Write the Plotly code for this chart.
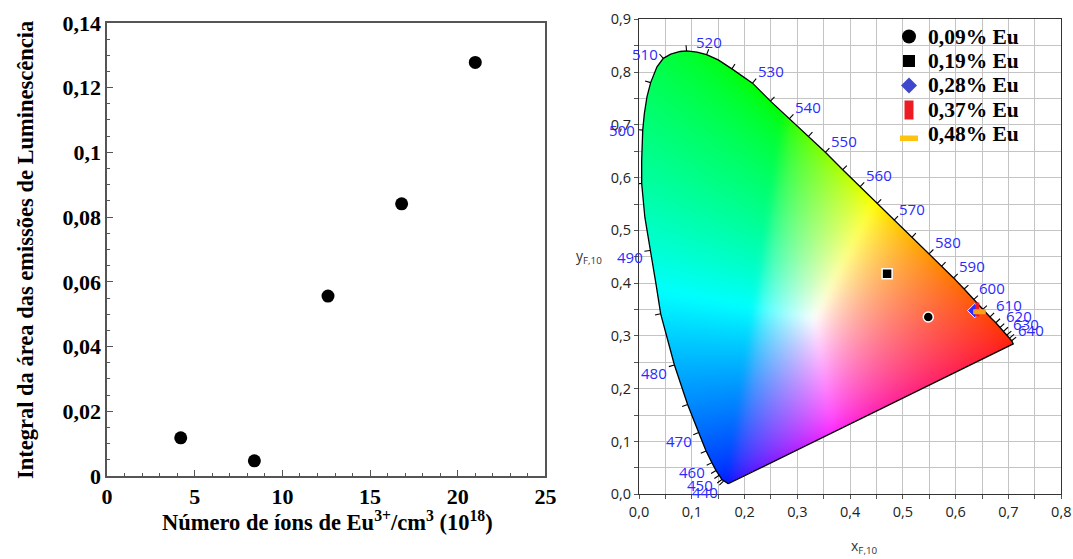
import numpy as np
import plotly.graph_objects as go
import zlib, struct, base64

# ---------------- data: left panel ----------------
eu_ions = [4.2, 8.4, 12.6, 16.8, 21.0]
lum_area = [0.0118, 0.0047, 0.0556, 0.0841, 0.1278]

# ---------------- data: chromaticity diagram ----------------
# spectral locus outline (blue end -> left -> top -> red end)
locus_x = [0.169, 0.160, 0.157, 0.152, 0.146, 0.138, 0.127, 0.113, 0.092, 0.067, 0.049,
           0.041, 0.032, 0.021, 0.011, 0.005, 0.005, 0.007, 0.010, 0.015, 0.022, 0.034,
           0.046, 0.060, 0.078, 0.090, 0.110, 0.128, 0.150, 0.176, 0.215, 0.249, 0.285,
           0.321, 0.353, 0.386, 0.419, 0.451, 0.483, 0.517, 0.550, 0.573, 0.596, 0.616,
           0.634, 0.651, 0.665, 0.676, 0.684, 0.691, 0.697, 0.702, 0.706, 0.709]
locus_y = [0.020, 0.025, 0.028, 0.036, 0.045, 0.060, 0.082, 0.117, 0.170, 0.245, 0.311,
           0.342, 0.399, 0.462, 0.525, 0.589, 0.633, 0.690, 0.721, 0.753, 0.780, 0.810,
           0.826, 0.834, 0.839, 0.840, 0.838, 0.833, 0.823, 0.806, 0.779, 0.745, 0.712,
           0.678, 0.648, 0.615, 0.583, 0.551, 0.519, 0.487, 0.456, 0.432, 0.410, 0.389,
           0.369, 0.350, 0.336, 0.325, 0.316, 0.309, 0.302, 0.296, 0.291, 0.285]

# wavelength tick marks on the locus (nm and position)
wl_nm = [440, 445, 450, 455, 460, 465, 470, 475, 480, 485, 490, 495, 500, 505, 510,
         515, 520, 525, 530, 535, 540, 545, 550, 555, 560, 565, 570, 575, 580, 585,
         590, 595, 600, 605, 610, 615, 620, 625, 630, 635, 640]
wl_x = [0.160, 0.157, 0.152, 0.146, 0.138, 0.127, 0.113, 0.092, 0.067, 0.041, 0.021,
        0.005, 0.007, 0.022, 0.046, 0.090, 0.128, 0.176, 0.215, 0.249, 0.285, 0.321,
        0.353, 0.386, 0.419, 0.451, 0.483, 0.517, 0.550, 0.573, 0.596, 0.616, 0.634,
        0.651, 0.665, 0.676, 0.684, 0.691, 0.697, 0.702, 0.706]
wl_y = [0.025, 0.028, 0.036, 0.045, 0.060, 0.082, 0.117, 0.170, 0.245, 0.342, 0.462,
        0.589, 0.690, 0.780, 0.826, 0.840, 0.833, 0.806, 0.779, 0.745, 0.712, 0.678,
        0.648, 0.615, 0.583, 0.551, 0.519, 0.487, 0.456, 0.432, 0.410, 0.389, 0.369,
        0.350, 0.336, 0.325, 0.316, 0.309, 0.302, 0.296, 0.291]

# samples
sample_names = ['0,09% Eu', '0,19% Eu', '0,28% Eu', '0,37% Eu', '0,48% Eu']
sample_x = [0.548, 0.470, 0.636, 0.641, 0.645]
sample_y = [0.336, 0.418, 0.348, 0.350, 0.346]

W, H = 1073, 559
X2_DOM = [639 / W, 1061.3 / W]
Y2_DOM = [1 - 494.3 / H, 1 - 19.3 / H]
X2_RANGE = [0, 0.8]
Y2_RANGE = [0, 0.9]

# ---------------- colour fill image (rendering of the chromaticity plane) ----------------
step = 1 / 527.5
nx, ny = 380, 452
xs = (np.arange(nx) + 0.5) * step
ys = (np.arange(ny) + 0.5) * step
GX, GY = np.meshgrid(xs, ys)
Xc = GX / GY
Zc = (1 - GX - GY) / GY
M = np.array([[2.3646, -0.8965, -0.4681],
              [-0.5152, 1.4264, 0.0888],
              [0.0052, -0.0144, 1.0092]])
r = M[0, 0] * Xc + M[0, 1] + M[0, 2] * Zc
g = M[1, 0] * Xc + M[1, 1] + M[1, 2] * Zc
b = M[2, 0] * Xc + M[2, 1] + M[2, 2] * Zc
rgb = np.stack([r, g, b], -1)
rgb = np.clip(rgb, 0, None)
rgb = rgb / np.maximum(rgb.max(-1, keepdims=True), 1e-9)
rgb = np.power(rgb, 1 / 1.7)


def gauss_matrix(n, sigma):
    idx = np.arange(n)
    k = np.exp(-0.5 * ((idx[:, None] - idx[None, :]) / sigma) ** 2)
    return k / k.sum(1, keepdims=True)


Ky = gauss_matrix(ny, 4.0)
Kx = gauss_matrix(nx, 4.0)
for ch in range(3):
    rgb[..., ch] = Ky @ rgb[..., ch] @ Kx.T

px_ = np.array(locus_x + [locus_x[0]])
py_ = np.array(locus_y + [locus_y[0]])
inside = np.zeros(GX.shape, dtype=bool)
for i in range(len(px_) - 1):
    x1, y1, x2, y2 = px_[i], py_[i], px_[i + 1], py_[i + 1]
    cond = (y1 > GY) != (y2 > GY)
    xint = x1 + (GY - y1) * (x2 - x1) / ((y2 - y1) if y2 != y1 else 1e-12)
    inside ^= cond & (GX < xint)

rgba = np.zeros((ny, nx, 4), dtype=np.uint8)
rgba[..., :3] = (np.clip(rgb, 0, 1) * 255).round().astype(np.uint8)
rgba[..., 3] = np.where(inside, 255, 0).astype(np.uint8)


def png_uri(arr):
    h, w, _ = arr.shape
    raw = b''.join(b'\x00' + arr[i].tobytes() for i in range(h))

    def chunk(tag, data):
        c = struct.pack('>I', len(data)) + tag + data
        return c + struct.pack('>I', zlib.crc32(tag + data) & 0xffffffff)
    png = (b'\x89PNG\r\n\x1a\n' + chunk(b'IHDR', struct.pack('>IIBBBBB', w, h, 8, 6, 0, 0, 0))
           + chunk(b'IDAT', zlib.compress(raw, 9)) + chunk(b'IEND', b''))
    return 'data:image/png;base64,' + base64.b64encode(png).decode()


def to_paper(x, y):
    px = X2_DOM[0] + (x - X2_RANGE[0]) / (X2_RANGE[1] - X2_RANGE[0]) * (X2_DOM[1] - X2_DOM[0])
    py = Y2_DOM[0] + (y - Y2_RANGE[0]) / (Y2_RANGE[1] - Y2_RANGE[0]) * (Y2_DOM[1] - Y2_DOM[0])
    return px, py


fig = go.Figure()

# ---------------- left panel ----------------
fig.add_trace(go.Scatter(x=eu_ions, y=lum_area, mode='markers', xaxis='x', yaxis='y',
                         marker=dict(symbol='circle', size=13, color='black'), showlegend=False))

# ---------------- right panel ----------------
fig.add_trace(go.Image(source=png_uri(rgba), x0=xs[0], y0=ys[0], dx=step, dy=step,
                       xaxis='x2', yaxis='y2', hoverinfo='skip'))

fig.add_trace(go.Scatter(x=locus_x + [locus_x[0]], y=locus_y + [locus_y[0]], mode='lines',
                         xaxis='x2', yaxis='y2', line=dict(color='black', width=1.3),
                         showlegend=False, hoverinfo='skip'))

# wavelength ticks and labels
P = np.array([wl_x, wl_y]).T
tick_len = 0.011
tx, ty = [], []
annotations = []
for i, nm in enumerate(wl_nm):
    a = P[max(i - 1, 0)]
    c = P[min(i + 1, len(P) - 1)]
    t = c - a
    t = t / np.hypot(*t)
    n = np.array([-t[1], t[0]])
    p0 = P[i]
    p1 = p0 + n * tick_len
    tx += [p0[0], p1[0], None]
    ty += [p0[1], p1[1], None]
    if nm % 10 == 0:
        if n[0] < -0.45:
            xa = 'right'
            ya = 'top' if n[1] < -0.1 else 'middle'
        elif n[0] > 0.45:
            xa, ya = 'left', 'bottom'
        else:
            xa = 'center'
            ya = 'bottom' if n[1] > 0 else 'top'
        ysh = {'bottom': -4, 'top': 5, 'middle': 0}[ya]
        lp = p1 + n * 0.001
        lx, ly = to_paper(lp[0], lp[1])
        annotations.append(dict(x=lx, y=ly, xref='paper', yref='paper', text=str(nm),
                                showarrow=False, xanchor=xa, yanchor=ya, borderpad=0, yshift=ysh,
                                font=dict(family='Open Sans', size=15, color='#2a2aff')))
fig.add_trace(go.Scatter(x=tx, y=ty, mode='lines', xaxis='x2', yaxis='y2',
                         line=dict(color='black', width=1.1), showlegend=False, hoverinfo='skip'))

# sample markers on the diagram
plot_styles = [
    dict(symbol='circle', size=10, color='black', line=dict(color='white', width=1.5)),
    dict(symbol='square', size=10, color='black', line=dict(color='white', width=1.5)),
    dict(symbol='diamond', size=11, color='#2b2bff', line=dict(color='white', width=1)),
    dict(symbol='line-ns', size=10, color='#ed1c24', line=dict(color='#ed1c24', width=4)),
    dict(symbol='line-ew', size=9, color='#f7a21b', line=dict(color='#f7a21b', width=5)),
]
for i, name in enumerate(sample_names):
    fig.add_trace(go.Scatter(x=[sample_x[i]], y=[sample_y[i]], mode='markers', xaxis='x2', yaxis='y2',
                             name=name, marker=plot_styles[i], showlegend=False, hoverinfo='skip'))

# legend key (drawn as layout shapes + text)
LEG_X_SYM = 909 / W
LEG_X_TXT = 926 / W
LEG_Y0 = 36.5
LEG_STEP = 24.5
legend_shapes = [
    dict(type='circle', x0=-7, x1=7, y0=-7, y1=7, fillcolor='black'),
    dict(type='rect', x0=-6, x1=6, y0=-6, y1=6, fillcolor='black'),
    dict(type='path', path='M-8,0 L0,-8 L8,0 L0,8 Z', fillcolor='#3f48cc'),
    dict(type='rect', x0=-4.5, x1=4.5, y0=-9.5, y1=9.5, fillcolor='#ed1c24'),
    dict(type='rect', x0=-9, x1=9, y0=-6.5, y1=-1, fillcolor='#ffc20e'),
]
shapes = []
for i, name in enumerate(sample_names):
    yc = 1 - (LEG_Y0 + i * LEG_STEP) / H
    s = dict(legend_shapes[i])
    s.update(xref='paper', yref='paper', xsizemode='pixel', ysizemode='pixel',
             xanchor=LEG_X_SYM, yanchor=yc, line=dict(width=0))
    shapes.append(s)
    annotations.append(dict(x=LEG_X_TXT, y=yc, xref='paper', yref='paper', text=name, showarrow=False,
                            xanchor='left', yanchor='middle',
                            font=dict(family='Liberation Serif', size=21.5, color='black', weight='bold')))

serif_bold = dict(family='Liberation Serif', size=22.5, color='black', weight='bold')
sans = dict(family='Open Sans', size=14.5, color='#222')

annotations += [
    dict(x=327.5 / W, y=1 - 521 / H, xref='paper', yref='paper', showarrow=False,
         text='Número de íons de Eu<sup>3+</sup>/cm<sup>3</sup> (10<sup>18</sup>)', font=serif_bold,
         xanchor='center', yanchor='middle'),
    dict(x=25 / W, y=1 - 250 / H, xref='paper', yref='paper', showarrow=False, textangle=-90,
         text='Integral da área das emissões de Luminescência', font=serif_bold,
         xanchor='center', yanchor='middle'),
    dict(x=589 / W, y=1 - 256 / H, xref='paper', yref='paper', showarrow=False,
         text='y<sub>F,10</sub>', font=dict(family='Open Sans', size=14, color='#333'),
         xanchor='center', yanchor='middle'),
    dict(x=864 / W, y=1 - 546 / H, xref='paper', yref='paper', showarrow=False,
         text='x<sub>F,10</sub>', font=dict(family='Open Sans', size=14, color='#333'),
         xanchor='center', yanchor='middle'),
]

fig.update_layout(
    width=W, height=H, margin=dict(l=0, r=0, t=0, b=0, autoexpand=False),
    paper_bgcolor='white', plot_bgcolor='white', separators=',.', showlegend=False,
    xaxis=dict(domain=[107.1 / W, 545.4 / W], anchor='y', range=[0, 25], dtick=5,
               showgrid=False, zeroline=False, showline=True, mirror=True, linecolor='#555', linewidth=1.5,
               ticks='inside', ticklen=6, tickcolor='#555', tickwidth=1.2,
               minor=dict(dtick=1, ticks='inside', ticklen=3, tickcolor='#555', showgrid=False),
               tickfont=dict(serif_bold, size=22)),
    yaxis=dict(domain=[1 - 476 / H, 1 - 22.9 / H], anchor='x', range=[0, 0.14], dtick=0.02,
               showgrid=False, zeroline=False, showline=True, mirror=True, linecolor='#555', linewidth=1.5,
               ticks='inside', ticklen=6, tickcolor='#555', tickwidth=1.2,
               minor=dict(dtick=0.005, ticks='inside', ticklen=3, tickcolor='#555', showgrid=False),
               tickfont=dict(serif_bold, size=22)),
    xaxis2=dict(domain=X2_DOM, anchor='y2', range=X2_RANGE, autorange=False, dtick=0.1,
                tickformat='.1f', showgrid=True, gridcolor='#c4c4c4', gridwidth=1, zeroline=False,
                showline=True, mirror=True, linecolor='#333', linewidth=1.3,
                ticks='outside', ticklen=4, tickcolor='#555',
                minor=dict(dtick=0.05, ticks='outside', ticklen=4, tickcolor='#555', showgrid=True,
                           gridcolor='#c4c4c4', gridwidth=1),
                tickfont=sans),
    yaxis2=dict(domain=Y2_DOM, anchor='x2', range=Y2_RANGE, autorange=False, dtick=0.1,
                tickformat='.1f', showgrid=True, gridcolor='#c4c4c4', gridwidth=1, zeroline=False,
                showline=True, mirror=True, linecolor='#333', linewidth=1.3,
                ticks='outside', ticklen=4, tickcolor='#555',
                minor=dict(dtick=0.05, ticks='outside', ticklen=4, tickcolor='#555', showgrid=True,
                           gridcolor='#c4c4c4', gridwidth=1),
                tickfont=sans),
    annotations=annotations,
    shapes=shapes,
)

fig.write_html('out.html', config={'displayModeBar': False},
               post_script="document.body.style.margin='0';document.body.style.overflow='hidden';")
